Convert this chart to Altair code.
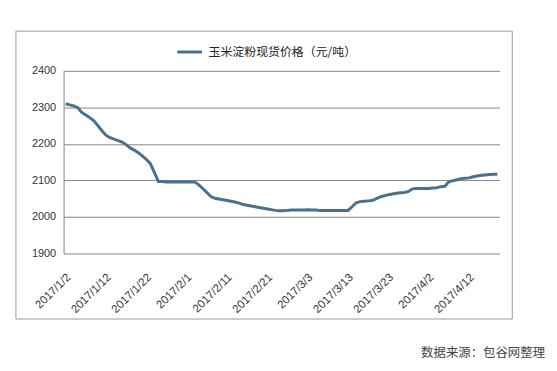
import altair as alt
import pandas as pd

# daily spot price of corn starch, 2017/1/2 .. 2017/4/19 (yuan/ton)
prices = [
    2310, 2307, 2304, 2299, 2286, 2279, 2272, 2263, 2250, 2236,
    2224, 2217, 2213, 2209, 2205, 2198, 2189, 2183, 2176, 2167,
    2158, 2146, 2122, 2097, 2097, 2096, 2096, 2096, 2096, 2096,
    2096, 2096, 2096, 2088, 2078, 2067, 2056, 2051, 2049, 2047,
    2045, 2043, 2041, 2038, 2034, 2032, 2030, 2028, 2026, 2024,
    2022, 2020, 2018, 2017, 2017, 2018, 2019, 2019, 2019, 2019,
    2020, 2019, 2019, 2018, 2018, 2018, 2018, 2018, 2018, 2018,
    2018, 2028, 2039, 2042, 2043, 2044, 2045, 2050, 2055, 2058,
    2061, 2063, 2065, 2066, 2067, 2070, 2077, 2078, 2078, 2078,
    2078, 2079, 2080, 2083, 2084, 2097, 2099, 2102, 2105, 2106,
    2107, 2110, 2112, 2114, 2115, 2116, 2117, 2117,
]
dates = [f"{d.year}/{d.month}/{d.day}" for d in pd.date_range("2017-01-02", periods=len(prices))]
tick_labels = dates[::10]
y_ticks = [1900, 2000, 2100, 2200, 2300, 2400]
series_name = "玉米淀粉现货价格（元/吨）"
source_note = "数据来源：包谷网整理"

line_color = "#4a7090"
grid_color = "#868686"
latin_font = "Liberation Sans"
cjk_font = "Noto Sans CJK SC"

df = pd.DataFrame({"date": dates, "price": prices, "series": series_name})

frame = alt.Chart(pd.DataFrame({"k": [0]})).mark_rect(
    fillOpacity=0, stroke="#9a9a9a", strokeWidth=1
).encode(
    x=alt.value(-48), x2=alt.value(452), y=alt.value(-40), y2=alt.value(250)
)

line = alt.Chart(df).mark_line(strokeWidth=3).encode(
    x=alt.X(
        "date:O",
        sort=None,
        scale=alt.Scale(type="point", padding=0.5),
        axis=alt.Axis(
            values=tick_labels,
            labelAngle=-45,
            labelAlign="right",
            labelBaseline="middle",
            labelPadding=22,
            labelOffset=3,
            labelOverlap=False,
            ticks=False,
            domain=False,
            grid=False,
            title=None,
            labelFont=latin_font,
            labelFontSize=11.5,
            labelColor="#333333",
        ),
    ),
    y=alt.Y(
        "price:Q",
        scale=alt.Scale(domain=[1900, 2400], nice=False, zero=False),
        axis=alt.Axis(
            values=y_ticks,
            format="d",
            grid=True,
            gridColor=grid_color,
            gridWidth=1,
            gridOpacity=1,
            domain=True,
            domainColor=grid_color,
            ticks=False,
            labelPadding=8,
            title=None,
            labelFont=latin_font,
            labelFontSize=11,
            labelColor="#333333",
        ),
    ),
    color=alt.Color(
        "series:N",
        scale=alt.Scale(range=[line_color]),
        legend=alt.Legend(
            orient="none",
            legendX=113,
            legendY=-33,
            title=None,
            symbolType="stroke",
            symbolSize=625,
            symbolStrokeWidth=3,
            labelOffset=5,
            labelFont=cjk_font,
            labelFontSize=12,
            labelColor="#222222",
            labelLimit=400,
        ),
    ),
)

note = alt.Chart(pd.DataFrame({"t": [source_note]})).mark_text(
    align="right", baseline="middle", font=cjk_font, fontSize=12.5, color="#444444"
).encode(text="t:N", x=alt.value(485), y=alt.value(284))

chart = (
    alt.layer(frame, line, note)
    .properties(
        width=439,
        height=184,
        autosize=alt.AutoSizeParams(type="none"),
        padding={"left": 56, "top": 62, "right": 50, "bottom": 108},
        background="white",
    )
    .configure_view(strokeWidth=0)
)

chart.save("out.html", embed_options={"renderer": "svg", "actions": False})
